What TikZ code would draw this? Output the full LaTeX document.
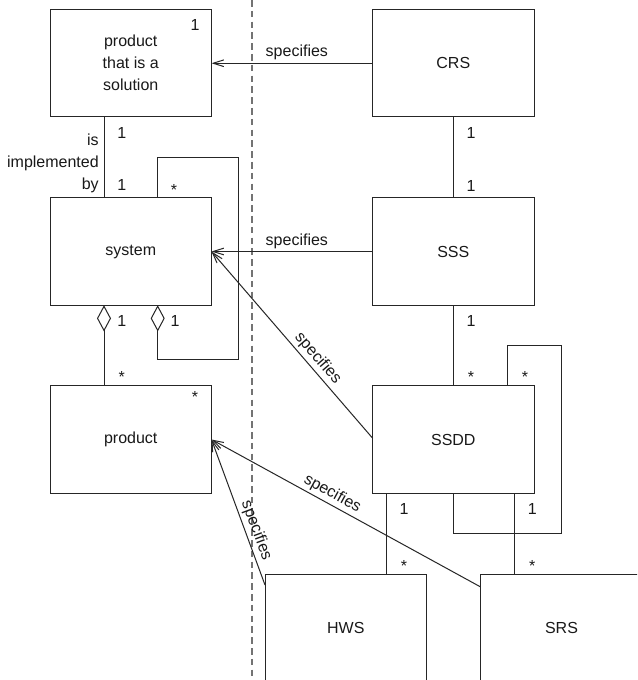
\documentclass[tikz,border=0pt]{standalone}
\usepackage{fontspec}
\setmainfont{Liberation Sans}
\usetikzlibrary{arrows.meta}

\begin{document}
\begin{tikzpicture}[
  x=0.75pt, y=0.75pt,
  every node/.style={font=\fontsize{12}{16.5}\selectfont, text=black!90},
  box/.style={draw=black!85, line width=0.75pt, inner sep=0pt, outer sep=0pt,
              minimum width=121.1pt, minimum height=80.6pt, align=center},
  link/.style={draw=black!85, line width=0.75pt},
  spec/.style={link, {Straight Barb[length=8pt,width=5pt]}-},
  agg/.style={link, {Diamond[open,length=19.7pt,width=10.5pt]}-},
  mult/.style={inner sep=0pt, anchor=base},
  lbl/.style={inner sep=2pt, sloped, above}
]
\clip (0,0) rectangle (637,-680);
\fill[white] (0,0) rectangle (637,-680);

% boundary between products and documents
\draw[black!55, line width=0.9pt, dash pattern=on 5pt off 3.1pt] (252,0) -- (252,-680);

% product side
\node[box] (sol)  at (130.75,-63.25) {product\\that is a\\solution};
\node[box] (sys)  at (130.75,-251.5) {system};
\node[box] (prod) at (130.75,-439.5) {product};

% document side
\node[box] (crs)  at (453.3,-63.25) {CRS};
\node[box] (sss)  at (453.3,-251.5) {SSS};
\node[box] (ssdd) at (453.3,-439.5) {SSDD};
\node[box] (hws)  at (345.8,-627.75) {HWS};
\node[box] (srs)  at (561.5,-627.75) {SRS};

% implementation link
\draw[link] (sol.south -| 104,0) -- (sys.north -| 104,0);
\node[inner sep=0pt, anchor=east, align=right] (impl) at (99,-163) {is\\implemented\\by};

% system self-aggregation
\coordinate (sl1) at (157.7,-157.3);
\coordinate (sl2) at (238.7,-157.3);
\coordinate (sl3) at (238.7,-359);
\coordinate (sl4) at (157.7,-359);
\draw[agg] (sys.south -| sl4) -- (sl4) -- (sl3) -- (sl2) -- (sl1) -- (sys.north -| sl1);

% system aggregates products
\draw[agg] (sys.south -| 104,0) -- (prod.north -| 104,0);

% document hierarchy
\draw[link] (crs.south) -- (sss.north);
\draw[link] (sss.south) -- (ssdd.north);
\coordinate (dl1) at (507.3,-345.7);
\coordinate (dl2) at (561,-345.7);
\coordinate (dl3) at (561,-533.7);
\coordinate (dl4) at (453.3,-533.7);
\draw[link] (ssdd.north -| dl1) -- (dl1) -- (dl2) -- (dl3) -- (dl4) -- (ssdd.south -| dl4);
\draw[link] (ssdd.south -| 386.7,0) -- (hws.north -| 386.7,0);
\draw[link] (ssdd.south -| 514,0) -- (srs.north -| 514,0);

% specification links
\draw[spec] (sol.east) -- node[inner sep=2pt, above, pos=0.53] {specifies} (crs.west);
\draw[spec] (sys.east) -- node[inner sep=2pt, above, pos=0.53] {specifies} (sss.west);
\coordinate (ssdda) at (372.7,-438.3);
\draw[spec] (sys.east) -- node[lbl, pos=0.61] {specifies} (ssdda);
\coordinate (srsa) at (480.7,-587);
\draw[spec] (prod.east) -- node[lbl, pos=0.43] {specifies} (srsa);
\coordinate (hwsa) at (265,-585);
\draw[spec] (prod.east) -- node[lbl, pos=0.65] {specifies} (hwsa);

% multiplicities
\node[mult] (m1)  at (195,-30.7) {1};
\node[mult] (m2)  at (121.7,-138.4) {1};
\node[mult] (m3)  at (121.7,-190.7) {1};
\node[mult] (m4)  at (174,-195.3) {*};
\node[mult] (m5)  at (121.7,-326.4) {1};
\node[mult] (m6)  at (175,-326.4) {1};
\node[mult] (m7)  at (121.7,-382.3) {*};
\node[mult] (m8)  at (195,-402.3) {*};
\node[mult] (m9)  at (471,-138.4) {1};
\node[mult] (m10) at (471,-191.7) {1};
\node[mult] (m11) at (471,-326.4) {1};
\node[mult] (m12) at (471,-382.3) {*};
\node[mult] (m13) at (525,-382.3) {*};
\node[mult] (m14) at (404,-514) {1};
\node[mult] (m15) at (532.3,-514) {1};
\node[mult] (m16) at (404,-571) {*};
\node[mult] (m17) at (532.3,-571) {*};
\end{tikzpicture}
\end{document}
